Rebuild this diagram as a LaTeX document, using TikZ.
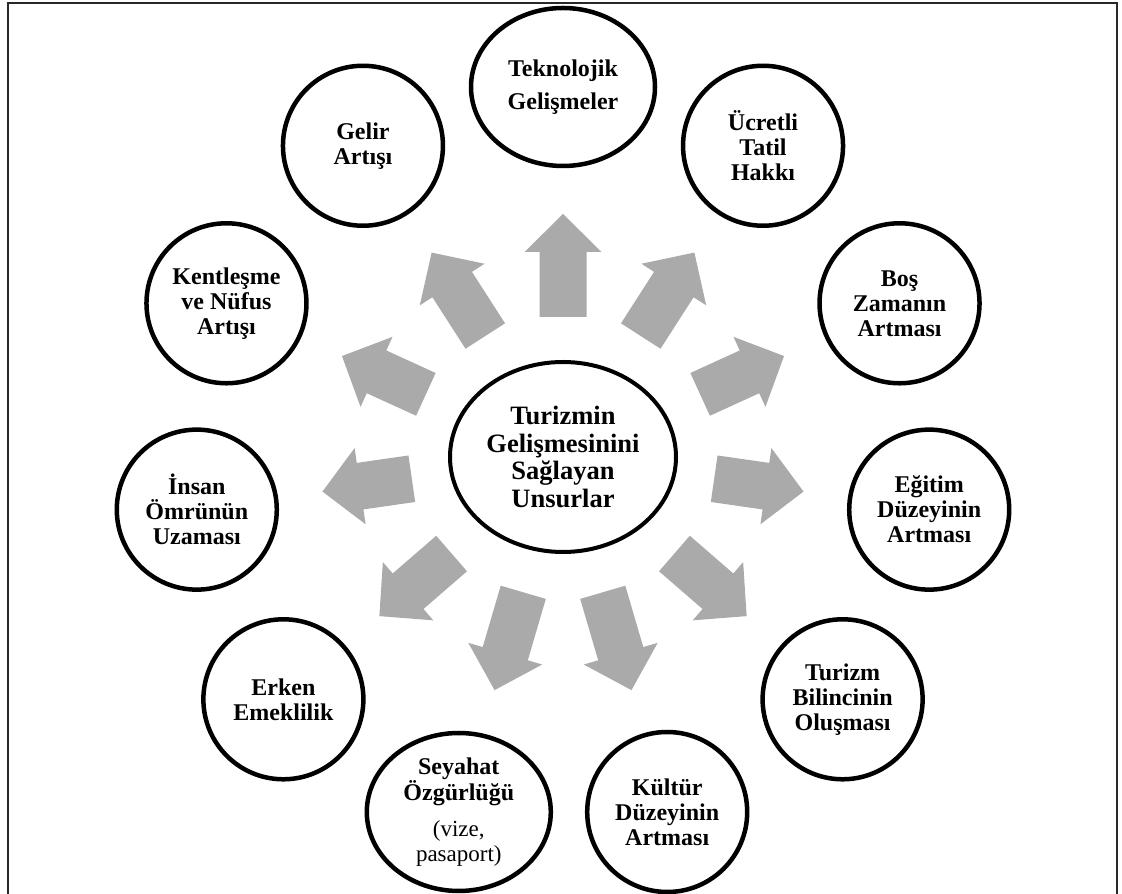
\documentclass[tikz,border=0pt]{standalone}
\usepackage{fontspec}
\setmainfont{Liberation Serif}
\usetikzlibrary{shapes.geometric,calc}
\definecolor{arrowgray}{RGB}{170,170,170}
\definecolor{framegray}{RGB}{40,40,40}
\begin{document}
\begin{tikzpicture}[x=1pt,y=1pt,
  factor/.style={circle,draw=black,line width=4.5pt,minimum size=160pt,inner sep=0pt,
    align=center,font=\bfseries\fontsize{24}{25}\selectfont},
  wide/.style={ellipse,draw=black,line width=4.5pt,minimum width=184pt,minimum height=158pt,
    inner sep=0pt,align=center,font=\bfseries\fontsize{24}{25}\selectfont},
  hubnode/.style={ellipse,draw=black,line width=4pt,minimum width=226pt,minimum height=190pt,
    inner sep=0pt,align=center,font=\bfseries\fontsize{26.5}{27.5}\selectfont},
  blockarrow/.style={fill=arrowgray}]
\useasboundingbox (0,0) rectangle (1122,894);
\fill[white] (0,0) rectangle (1122,894);
\draw[framegray,line width=1.8pt] (8,-2) -- (8,891) -- (1117,891) -- (1117,-2);
\coordinate (C) at (563,437);
% arrows
\foreach \k in {0,...,10}{
  \pgfmathsetmacro{\a}{90-\k*32.7273}
  \pgfmathsetmacro{\d}{140+13*cos(\a)*cos(\a)}
  \begin{scope}[shift={(C)},rotate=\a]
    \fill[blockarrow] (\d,-23.5) -- (205,-23.5) -- (205,-38.5) -- (243,0) -- (205,38.5) -- (205,23.5) -- (\d,23.5) -- cycle;
  \end{scope}
}
\node[hubnode] (hub) at (C) {Turizmin\\Gelişmesinini\\Sağlayan\\Unsurlar};
\node[wide] (c0) at ($(C)+(90:370)$) {Teknolojik\\[8pt]Gelişmeler};
\node[factor] (c1) at ($(C)+(57.27:370)$) {Ücretli\\Tatil\\Hakkı};
\node[factor] (c2) at ($(C)+(24.55:370)$) {Boş\\Zamanın\\Artması};
\node[factor] (c3) at ($(C)+(-8.18:370)$) {Eğitim\\Düzeyinin\\Artması};
\node[factor] (c4) at ($(C)+(-40.91:370)$) {Turizm\\Bilincinin\\Oluşması};
\node[factor] (c5) at ($(C)+(-73.64:370)$) {Kültür\\Düzeyinin\\Artması};
\node[wide] (c6) at ($(C)+(-106.36:370)$) {Seyahat\\Özgürlüğü\\[11pt]{\mdseries\fontsize{23}{24}\selectfont (vize,}\\{\mdseries\fontsize{23}{24}\selectfont pasaport)}};
\node[factor] (c7) at ($(C)+(-139.09:370)$) {Erken\\Emeklilik};
\node[factor] (c8) at ($(C)+(-171.82:370)$) {İnsan\\Ömrünün\\Uzaması};
\node[factor] (c9) at ($(C)+(155.45:370)$) {Kentleşme\\ve Nüfus\\Artışı};
\node[factor] (c10) at ($(C)+(122.73:370)$) {Gelir\\Artışı};
\end{tikzpicture}
\end{document}
